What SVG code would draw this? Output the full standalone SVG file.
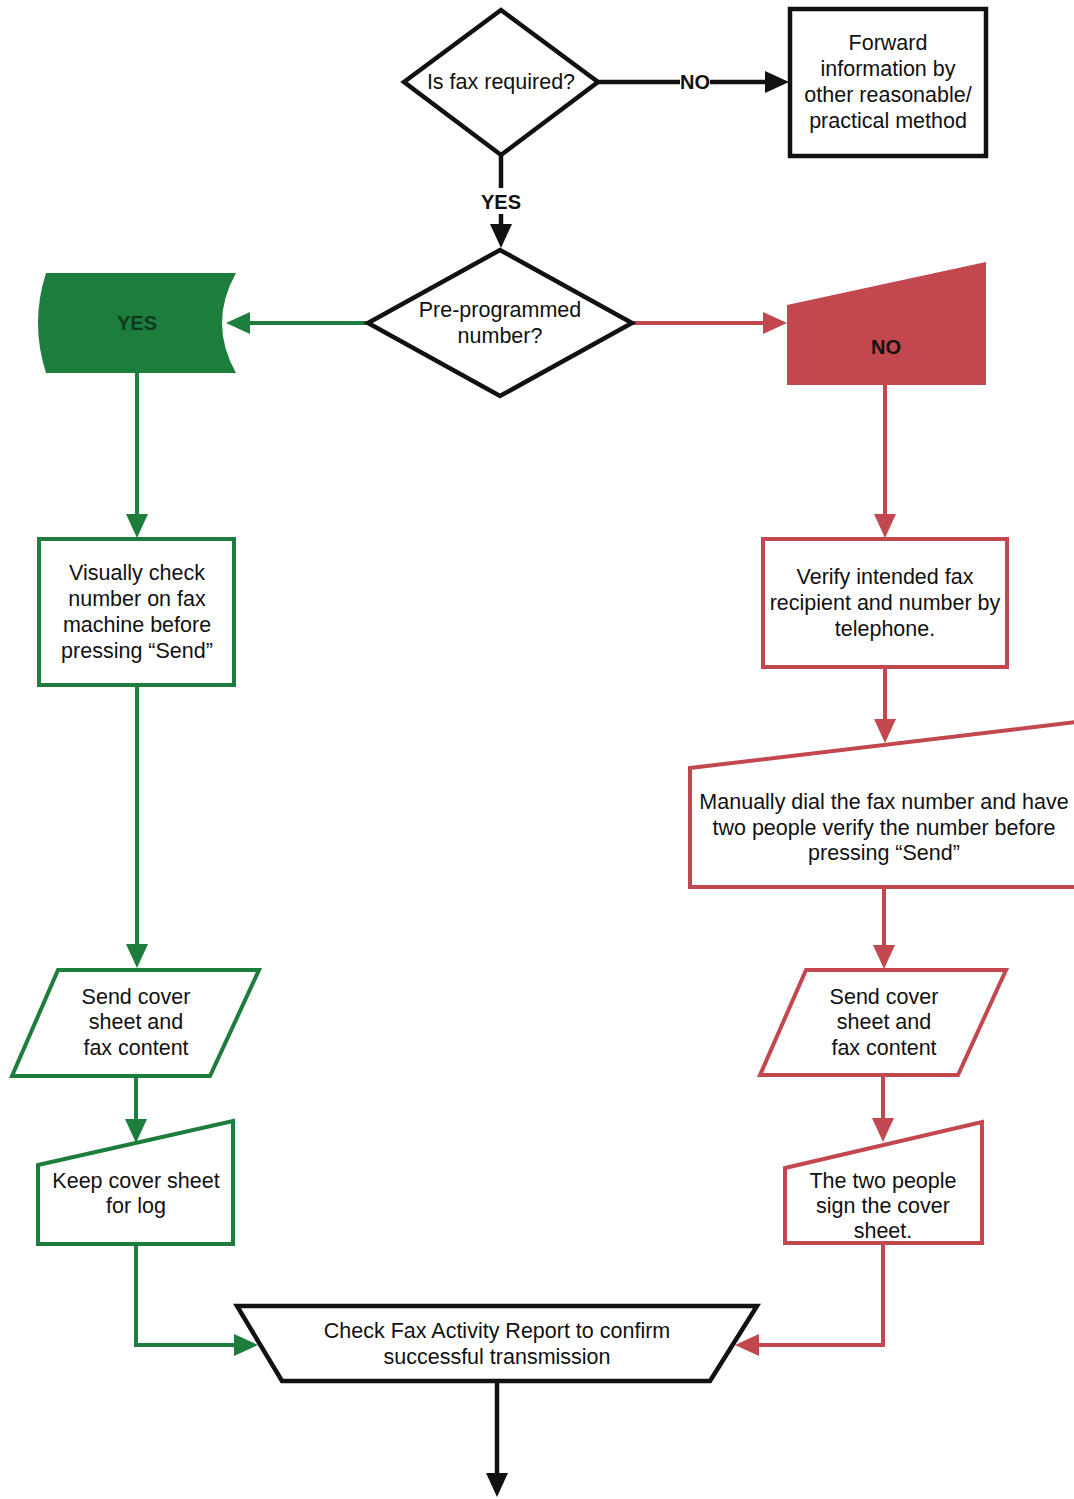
<svg xmlns="http://www.w3.org/2000/svg" width="1074" height="1499" viewBox="0 0 1074 1499">
<style>
text{font-family:"Liberation Sans",Arial,sans-serif;font-size:21.5px;fill:#111;text-anchor:middle}
.b{font-weight:bold;font-size:20px}
.k{fill:none;stroke:#111;stroke-width:4.5}
.g{fill:none;stroke:#1c7d3d;stroke-width:4}
.r{fill:none;stroke:#c2474f;stroke-width:4}
.nk{fill:#fff;stroke:#111;stroke-width:4.5;stroke-linejoin:miter}
.ng{fill:#fff;stroke:#1c7d3d;stroke-width:4}
.nr{fill:#fff;stroke:#c2474f;stroke-width:4}
</style>
<defs>
<marker id="ak" markerUnits="userSpaceOnUse" markerWidth="24" markerHeight="22" refX="14" refY="11" orient="auto"><path d="M0,0 L24,11 L0,22 Z" fill="#111"/></marker>
<marker id="ag" markerUnits="userSpaceOnUse" markerWidth="24" markerHeight="22" refX="14" refY="11" orient="auto"><path d="M0,0 L24,11 L0,22 Z" fill="#1c7d3d"/></marker>
<marker id="ar" markerUnits="userSpaceOnUse" markerWidth="24" markerHeight="22" refX="14" refY="11" orient="auto"><path d="M0,0 L24,11 L0,22 Z" fill="#c2474f"/></marker>
</defs>
<rect width="1074" height="1499" fill="#fff"/>
<g id="connectors">
<path class="k" d="M598,82 H680"/>
<text class="b" x="695" y="89">NO</text>
<path class="k" d="M710,82 H779" marker-end="url(#ak)"/>
<path class="k" d="M501,155 V188"/>
<text class="b" x="501" y="209">YES</text>
<path class="k" d="M501,214 V238" marker-end="url(#ak)"/>
<path class="g" d="M368,323 H236" marker-end="url(#ag)"/>
<path class="r" d="M632,323 H777" marker-end="url(#ar)"/>
<path class="g" d="M137,373 V528" marker-end="url(#ag)"/>
<path class="r" d="M885,385 V528" marker-end="url(#ar)"/>
<path class="g" d="M137,685 V958" marker-end="url(#ag)"/>
<path class="r" d="M885,667 V733" marker-end="url(#ar)"/>
<path class="r" d="M884,887 V959" marker-end="url(#ar)"/>
<path class="g" d="M136,1076 V1133" marker-end="url(#ag)"/>
<path class="r" d="M883,1075 V1132" marker-end="url(#ar)"/>
<path class="g" d="M136,1244 V1345 H248" marker-end="url(#ag)"/>
<path class="r" d="M883,1243 V1345 H745" marker-end="url(#ar)"/>
<path class="k" d="M497,1381 V1487" marker-end="url(#ak)"/>
</g>
<g id="n1">
<path class="nk" d="M501,10 L598,82 L501,155 L404,82 Z"/>
<text x="501" y="89">Is fax required?</text>
</g>
<g id="n2">
<rect class="nk" x="790" y="9" width="196" height="147"/>
<text x="888" y="50">Forward</text>
<text x="888" y="76">information by</text>
<text x="888" y="102">other reasonable/</text>
<text x="888" y="128">practical method</text>
</g>
<g id="n3">
<path class="nk" d="M500,250 L632,323 L500,396 L368,323 Z"/>
<text x="500" y="317">Pre-programmed</text>
<text x="500" y="343">number?</text>
</g>
<g id="n4">
<path d="M46,273 L236,273 Q208,323 236,373 L46,373 Q30,323 46,273 Z" fill="#1c7d3d"/>
<text class="b" x="137" y="330" style="fill:#0d3a1e">YES</text>
</g>
<g id="n5">
<path d="M787,305 L986,262 L986,385 L787,385 Z" fill="#c2474f"/>
<text class="b" x="886" y="354">NO</text>
</g>
<g id="n6">
<rect class="ng" x="39" y="539" width="195" height="146"/>
<text x="137" y="580">Visually check</text>
<text x="137" y="606">number on fax</text>
<text x="137" y="632">machine before</text>
<text x="137" y="658">pressing “Send”</text>
</g>
<g id="n7">
<rect class="nr" x="763" y="539" width="244" height="128"/>
<text x="885" y="584">Verify intended fax</text>
<text x="885" y="610">recipient and number by</text>
<text x="885" y="636">telephone.</text>
</g>
<g id="n8">
<path class="nr" d="M690,768 L1076,722 L1076,887 L690,887 Z"/>
<text x="884" y="809">Manually dial the fax number and have</text>
<text x="884" y="835">two people verify the number before</text>
<text x="884" y="860">pressing “Send”</text>
</g>
<g id="n9">
<path class="ng" d="M58,970 L259,970 L210,1076 L12,1076 Z"/>
<text x="136" y="1004">Send cover</text>
<text x="136" y="1029">sheet and</text>
<text x="136" y="1055">fax content</text>
</g>
<g id="n10">
<path class="nr" d="M806,970 L1006,970 L958,1075 L760,1075 Z"/>
<text x="884" y="1004">Send cover</text>
<text x="884" y="1029">sheet and</text>
<text x="884" y="1055">fax content</text>
</g>
<g id="n11">
<path class="ng" d="M38,1165 L233,1121 L233,1244 L38,1244 Z"/>
<text x="136" y="1188">Keep cover sheet</text>
<text x="136" y="1213">for log</text>
</g>
<g id="n12">
<path class="nr" d="M785,1168 L982,1122 L982,1243 L785,1243 Z"/>
<text x="883" y="1188">The two people</text>
<text x="883" y="1213">sign the cover</text>
<text x="883" y="1238">sheet.</text>
</g>
<g id="n13">
<path class="nk" d="M237,1306 L757,1306 L710,1381 L282,1381 Z"/>
<text x="497" y="1338">Check Fax Activity Report to confirm</text>
<text x="497" y="1364">successful transmission</text>
</g>
</svg>
